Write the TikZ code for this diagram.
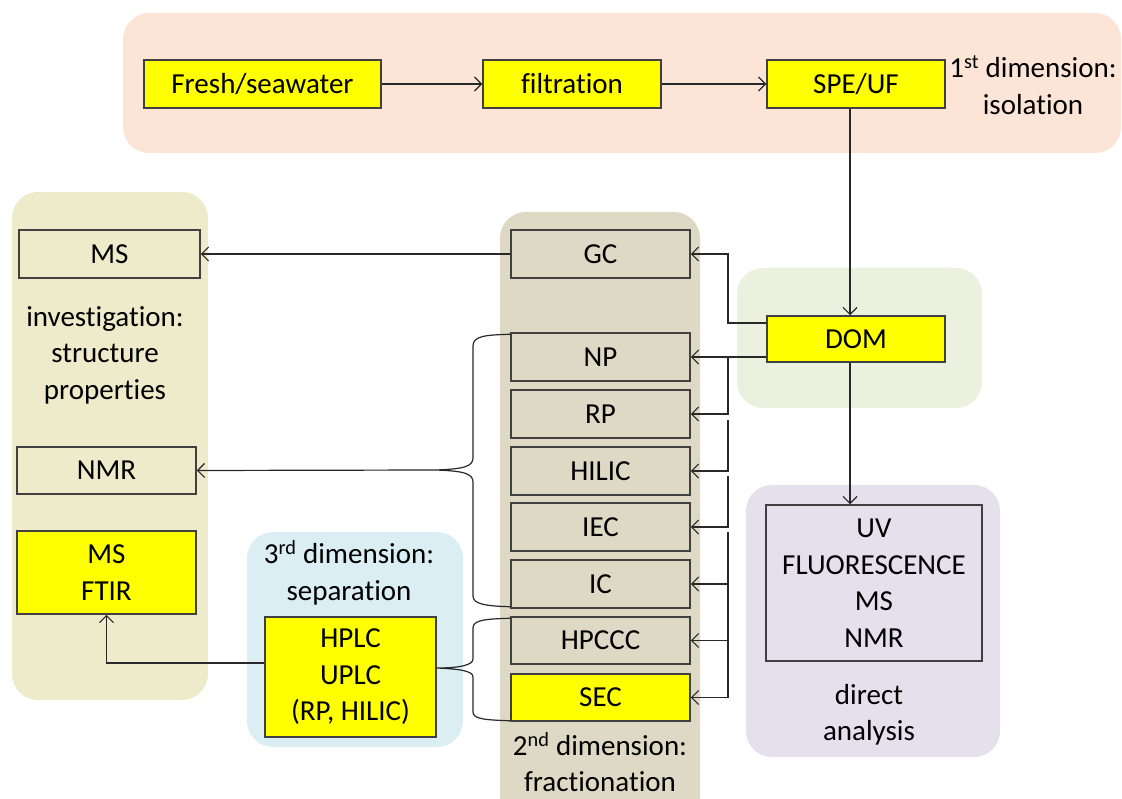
\documentclass[tikz,border=0pt]{standalone}
\usepackage{fontspec}
\setmainfont[Ligatures={NoCommon,NoRare,NoContextual}]{Carlito}
\usetikzlibrary{arrows.meta}
\definecolor{peach}{RGB}{252,229,214}
\definecolor{olivebg}{RGB}{237,235,201}
\definecolor{tanbg}{RGB}{221,217,196}
\definecolor{greenbg}{RGB}{235,241,222}
\definecolor{purplebg}{RGB}{229,224,236}
\definecolor{bluebg}{RGB}{218,238,243}
\definecolor{boxline}{RGB}{64,64,64}
\definecolor{conn}{RGB}{40,40,40}
\definecolor{yel}{RGB}{255,255,0}
\tikzset{
  bg/.style={rounded corners=26pt, draw=none},
  bx/.style={draw=boxline, line width=1.5pt, inner sep=0pt, align=center,
    font=\fontsize{29}{36.5}\selectfont},
  ybx/.style={bx, fill=yel},
  lbl/.style={align=center, font=\fontsize{29}{36.5}\selectfont},
  cn/.style={draw=conn, line width=1.2pt},
  ar/.style={cn, -{Straight Barb[length=7pt,width=14pt,line width=1.2pt]}},
}
\begin{document}
\begin{tikzpicture}[x=1pt,y=-1pt]
\useasboundingbox (0,0) rectangle (1122,799);
% backgrounds
\fill[bg, fill=peach] (123,13) rectangle (1121,153);
\fill[bg, fill=olivebg] (12,192) rectangle (208,700);
\fill[bg, fill=tanbg] (500,212) rectangle (700,830);
\fill[bg, fill=greenbg] (737,268) rectangle (982,408);
\fill[bg, fill=purplebg] (746,485) rectangle (1000,757);
\fill[bg, fill=bluebg] (247,532) rectangle (463,747);
% boxes
\node[ybx, minimum width=237pt, minimum height=48pt] (fresh) at (262.5,84) {Fresh/seawater};
\node[ybx, minimum width=178pt, minimum height=48pt] (filt) at (572,84) {filtration};
\node[ybx, minimum width=178pt, minimum height=48pt] (spe) at (856,84) {SPE/UF};
\node[ybx, minimum width=178pt, minimum height=46pt] (dom) at (856,339) {DOM};
\node[bx, minimum width=179pt, minimum height=48pt] (gc) at (600.5,254) {GC};
\node[bx, minimum width=179pt, minimum height=48pt] (np) at (600.5,357) {NP};
\node[bx, minimum width=179pt, minimum height=48pt] (rp) at (600.5,414) {RP};
\node[bx, minimum width=179pt, minimum height=48pt] (hilic) at (600.5,471) {HILIC};
\node[bx, minimum width=179pt, minimum height=48pt] (iec) at (600.5,527) {IEC};
\node[bx, minimum width=179pt, minimum height=48pt] (ic) at (600.5,584) {IC};
\node[bx, minimum width=179pt, minimum height=47pt] (hpccc) at (600.5,640.5) {HPCCC};
\node[ybx, minimum width=179pt, minimum height=47pt] (sec) at (600.5,697.5) {SEC};
\node[bx, minimum width=181pt, minimum height=48pt] (ms1) at (109.5,254) {MS};
\node[bx, minimum width=179pt, minimum height=47pt] (nmr) at (106.5,470.5) {NMR};
\node[ybx, minimum width=179pt, minimum height=83pt] (msftir) at (106.5,572.5) {MS\\FTIR};
\node[ybx, minimum width=171pt, minimum height=120pt] (hplc) at (350.5,677) {HPLC\\UPLC\\(RP, HILIC)};
\node[bx, minimum width=216pt, minimum height=156pt] (uv) at (874,583) {UV\\FLUORESCENCE\\MS\\NMR};
% labels
\node[lbl] (iso) at (1033,85) {1\textsuperscript{st} dimension:\\isolation};
\node[lbl] (inv) at (105,355) {investigation:\\structure\\properties};
\node[lbl] (sep) at (349,573) {3\textsuperscript{rd} dimension:\\separation};
\node[lbl] (frac) at (600,762) {2\textsuperscript{nd} dimension:\\fractionation};
\node[lbl] (dir) at (869,715) {direct\\analysis};
% connectors
\coordinate (bxc) at (728,0);
\coordinate (domb) at ([xshift=-6pt]dom.south);
\draw[ar] (fresh.east) -- (filt.west);
\draw[ar] (filt.east) -- (spe.west);
\draw[ar] ([xshift=-6pt]spe.south) -- ([xshift=-6pt]dom.north);
\draw[ar] (domb) -- (domb |- uv.north);
\draw[ar] ([yshift=16pt]dom.west) -| (bxc |- gc.east) -- (gc.east);
\draw[ar] (dom.west |- np.east) -- (np.east);
\draw[ar] (bxc |- np.east) |- (rp.east);
\draw[ar] ([yshift=-6pt]bxc |- rp.east) |- (hilic.east);
\draw[ar] ([yshift=-5pt]bxc |- hilic.east) |- (iec.east);
\draw[ar] ([yshift=-5pt]bxc |- iec.east) |- (sec.east);
\draw[ar] (bxc |- ic.east) -- (ic.east);
\draw[ar] (bxc |- hpccc.east) -- (hpccc.east);
\draw[ar] (gc.west) -- (ms1.east);
% brace 1
\coordinate (b1) at (436,470);
\draw[cn] ([yshift=-2pt]np.north west) .. controls (485,335) and (473,336) .. (473,346) -- (473,458)
  .. controls (473,467) and (462,469) .. (b1) .. controls (462,471) and (473,473) .. (473,482)
  -- (473,596) .. controls (473,604) and (485,606) .. ([yshift=2pt]ic.south west);
\draw[ar] (b1) -- (nmr.east);
% brace 2
\coordinate (b2) at ([yshift=9pt]hplc.east);
\draw[cn] ([yshift=-2pt]hpccc.north west) .. controls (485,619) and (473,620) .. (473,628) -- (473,659)
  .. controls (473,665) and (460,668) .. (b2) .. controls (460,669) and (473,671) .. (473,677)
  -- (473,712) .. controls (473,719) and (485,720) .. ([yshift=1pt]sec.south west);
\draw[ar] ([yshift=14pt]hplc.west) -| (msftir.south);
\end{tikzpicture}
\end{document}
